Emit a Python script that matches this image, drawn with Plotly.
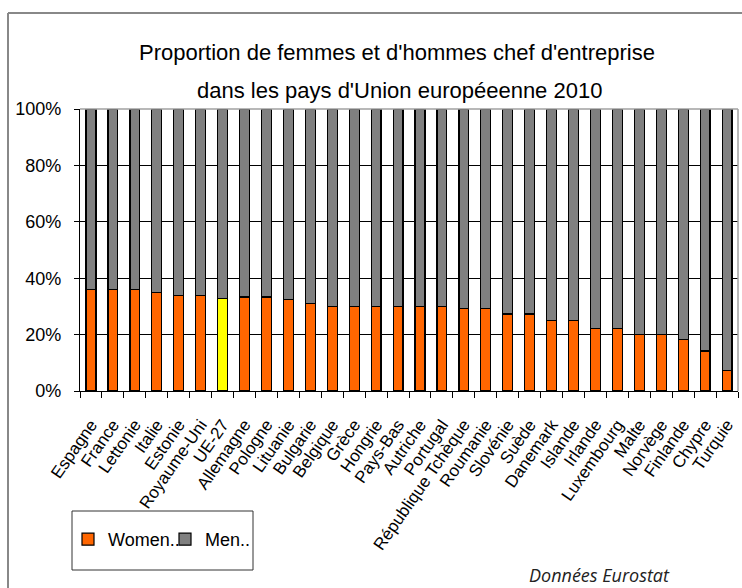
import plotly.graph_objects as go

# pays (ordre du graphique)
pays = ["Espagne", "France", "Lettonie", "Italie", "Estonie", "Royaume-Uni", "UE-27",
        "Allemagne", "Pologne", "Lituanie", "Bulgarie", "Belgique", "Grèce", "Hongrie",
        "Pays-Bas", "Autriche", "Portugal", "République Tchèque", "Roumanie", "Slovénie",
        "Suède", "Danemark", "Islande", "Irlande", "Luxembourg", "Malte", "Norvège",
        "Finlande", "Chypre", "Turquie"]

# part des femmes / des hommes (%)
women = [36.1, 36.1, 36.1, 35.0, 34.0, 34.0, 32.8, 33.3, 33.3, 32.4, 31.0, 29.9, 29.9, 29.9,
         29.9, 29.9, 29.9, 29.2, 29.2, 27.3, 27.3, 25.1, 25.1, 22.3, 22.3, 20.1, 20.1,
         18.4, 14.2, 7.4]
men = [63.9, 63.9, 63.9, 65.0, 66.0, 66.0, 67.2, 66.7, 66.7, 67.6, 69.0, 70.1, 70.1, 70.1,
       70.1, 70.1, 70.1, 70.8, 70.8, 72.7, 72.7, 74.9, 74.9, 77.7, 77.7, 79.9, 79.9,
       81.6, 85.8, 92.6]

y_ticks = [0, 20, 40, 60, 80, 100]
y_labels = ["0%", "20%", "40%", "60%", "80%", "100%"]

ORANGE = "#FF6600"
GREY = "#808080"
women_colors = ["#FFFF00" if p == "UE-27" else ORANGE for p in pays]

FONT = "Liberation Sans, Arial, sans-serif"

fig = go.Figure()
fig.add_trace(go.Bar(x=pays, y=women, name="Women..",
                     marker=dict(color=women_colors, line=dict(color="black", width=1.2))))
fig.add_trace(go.Bar(x=pays, y=men, name="Men..",
                     marker=dict(color=GREY, line=dict(color="black", width=1.2))))

# plot area: px 80..738 horizontally, 109..391 vertically
L, R, T, B = 80, 4, 109, 197
W, H = 742, 588
pw, ph = W - L - R, H - T - B


def px(x):
    return (x - L) / pw


def py(y):
    return (H - B - y) / ph


fig.update_layout(
    width=W, height=H,
    margin=dict(l=L, r=R, t=T, b=B, autoexpand=False),
    paper_bgcolor="white", plot_bgcolor="white",
    barmode="stack", bargap=0.55,
    font=dict(family=FONT, color="black"),
    title=dict(text="Proportion de femmes et d'hommes chef d'entreprise",
               xref="container", x=397 / W, xanchor="center",
               yref="container", y=1 - 52 / H, yanchor="middle",
               font=dict(size=22, family=FONT, color="black")),
    showlegend=True,
    legend=dict(orientation="h", x=px(68), y=py(521), xanchor="left", yanchor="top",
                font=dict(size=18, family=FONT), bgcolor="rgba(0,0,0,0)",
                traceorder="normal", entrywidth=52, entrywidthmode="pixels"),
    xaxis=dict(showline=True, linecolor="black", linewidth=1.2, automargin=False,
               tickmode="array", tickvals=pays, ticktext=pays,
               ticks="outside", ticklen=6, tickcolor="black", tickson="boundaries",
               tickangle=-55, tickfont=dict(size=17, family=FONT),
               ticklabelstandoff=16, showgrid=False),
    yaxis=dict(range=[0, 100], tickvals=y_ticks, ticktext=y_labels, automargin=False,
               showline=True, linecolor="black", linewidth=1.2,
               ticks="outside", ticklen=5, tickcolor="black",
               tickfont=dict(size=18, family=FONT), ticklabelstandoff=9,
               showgrid=True, gridcolor="black", gridwidth=1, zeroline=False),
    shapes=[
        # top and right edges of plot area (grey)
        dict(type="line", xref="paper", yref="paper", x0=0, x1=1, y0=1, y1=1,
             line=dict(color="#A0A0A0", width=1.5)),
        dict(type="line", xref="paper", yref="paper", x0=1, x1=1, y0=0, y1=1,
             line=dict(color="#A0A0A0", width=1.5)),
        # outer chart frame
        dict(type="line", xref="paper", yref="paper", x0=px(8), x1=px(760), y0=py(13), y1=py(13),
             line=dict(color="#888888", width=2)),
        dict(type="line", xref="paper", yref="paper", x0=px(8), x1=px(8), y0=py(13), y1=py(600),
             line=dict(color="#888888", width=2)),
        # legend box
        dict(type="rect", xref="paper", yref="paper", x0=px(72), x1=px(253), y0=py(511), y1=py(570),
             line=dict(color="#333333", width=1)),
    ],
    annotations=[
        # second title line, spaced like the original
        dict(text="dans les pays d'Union européeenne 2010", xref="paper", yref="paper",
             x=px(399), y=py(90), xanchor="center", yanchor="middle", showarrow=False,
             font=dict(size=22, family=FONT, color="black")),
        dict(text="<i>Données Eurostat</i>", xref="paper", yref="paper",
             x=px(599), y=py(561), xanchor="center", yanchor="top", showarrow=False,
             font=dict(size=18, family="Open Sans, Liberation Sans, sans-serif", color="#222222")),
    ],
)

# no page margin, so the figure sits at the top-left of the window
fig.write_html("out.html", config={"displayModeBar": False},
               post_script="document.body.style.margin='0';")
